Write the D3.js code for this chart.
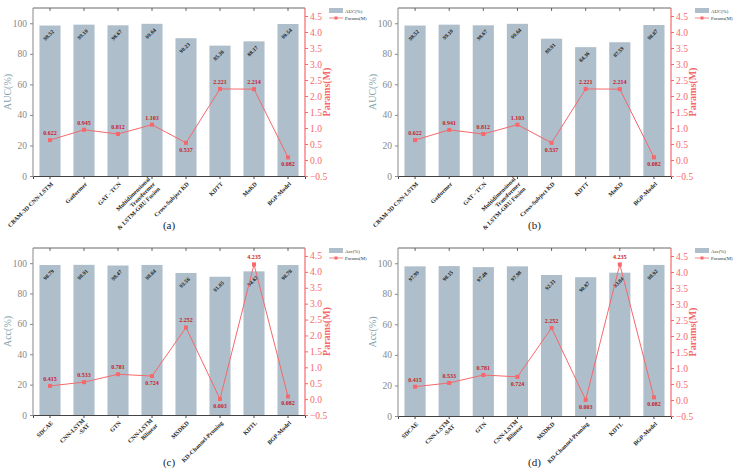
<!DOCTYPE html>
<html><head><meta charset="utf-8">
<script src="https://cdn.jsdelivr.net/npm/d3@7"></script>
<style>body{margin:0;background:#fff}svg{display:block}</style>
</head><body>
<svg id="c" width="734" height="472"></svg>
<script>
const catsAB = ["CBAM-3D CNN-LSTM","Gatformer","GAT - TCN","Multidimensional|Transformer|& LSTM-GRU Fusion","Cross-Subject KD","KDTT","MoKD","BGP-Model"];
const catsCD = ["SDCAE","CNN-LSTM|-SAT","GTN","CNN-LSTM|Bilinear","MSDKD","KD-Channel-Pruning","KDTL","BGP-Model"];
const barsA = [98.52, 99.10, 98.67, 99.64, 90.23, 85.36, 88.17, 99.54];
const barsB = [98.52, 99.10, 98.67, 99.64, 89.91, 84.36, 87.59, 98.87];
const barsC = [98.79, 98.91, 98.47, 98.84, 93.56, 91.05, 94.62, 98.78];
const barsD = [97.99, 98.15, 97.48, 97.98, 92.31, 90.87, 93.84, 98.92];
const paramsAB = [0.622, 0.945, 0.812, 1.103, 0.537, 2.221, 2.214, 0.082];
const paramsB = [0.622, 0.941, 0.812, 1.103, 0.537, 2.221, 2.214, 0.082];
const paramsCD = [0.415, 0.533, 0.781, 0.724, 2.252, 0.003, 4.235, 0.082];
const sideAB = [1,1,1,1,-1,1,1,-1];
const sideCD = [1,1,1,-1,1,-1,1,-1];
const leftTicks = [0,20,40,60,80,100];
const rightTicks = [-0.5,0,0.5,1,1.5,2,2.5,3,3.5,4,4.5];

const svg = d3.select("#c");
const serif = "'Liberation Serif','Times New Roman',serif";
const barColor = "#aebecb";
const red = "#f5686b";
const darkRed = "#c8202a";
const gray = "#888";

function panel(o){
  const g = svg.append("g");
  const x = d3.scaleBand().domain(o.cats).range([o.l,o.r]).paddingInner(0.38).paddingOuter(0.19);
  const y = d3.scaleLinear().domain([0,110]).range([o.b,o.t]);
  const y2 = d3.scaleLinear().domain([-0.5,4.75]).range([o.b,o.t]);
  g.selectAll("rect.bar").data(o.bars).join("rect")
    .attr("x",(d,i)=>x(o.cats[i])).attr("width",x.bandwidth())
    .attr("y",d=>y(d)).attr("height",d=>y(0)-y(d)).attr("fill",barColor);
  g.selectAll("text.bl").data(o.bars).join("text")
    .attr("transform",(d,i)=>`translate(${x(o.cats[i])+x.bandwidth()/2},${y(d)+11}) rotate(-45)`)
    .attr("text-anchor","middle").attr("font-family",serif).attr("font-size",5.5)
    .attr("font-weight","bold").attr("fill","#222").text(d=>d.toFixed(2));
  g.append("line").attr("x1",o.l).attr("x2",o.r).attr("y1",o.t).attr("y2",o.t).attr("stroke","#444").attr("stroke-width",0.8);
  o.cats.forEach(c=>{
    const cx = x(c)+x.bandwidth()/2;
    g.append("line").attr("x1",cx).attr("x2",cx).attr("y1",o.t).attr("y2",o.t+3).attr("stroke","#444").attr("stroke-width",0.8);
  });
  const xa = g.append("g").attr("transform",`translate(0,${o.b})`)
    .call(d3.axisBottom(x).tickSize(3).tickFormat(""));
  xa.select(".domain").attr("stroke","#444");
  xa.selectAll(".tick line").attr("stroke","#444");
  o.cats.forEach(c=>{
    const cx = x(c)+x.bandwidth()/2;
    const lines = c.split("|");
    const t = g.append("text").attr("transform",`translate(${cx+2},${o.b+7}) rotate(-45)`)
      .attr("text-anchor","end").attr("font-family",serif).attr("font-size",6)
      .attr("font-weight","bold").attr("fill","#222");
    lines.forEach((ln,k)=>{
      t.append("tspan").attr("x",0).attr("dy",k===0? (-(lines.length-1)*7/2)+2 : 7).text(ln);
    });
  });
  const ya = g.append("g").attr("transform",`translate(${o.l},0)`)
    .call(d3.axisLeft(y).tickValues(leftTicks).tickSize(3).tickPadding(3));
  ya.select(".domain").attr("d",`M0,${o.b}V${o.t}`).attr("stroke",gray);
  ya.selectAll(".tick line").attr("stroke",gray);
  ya.selectAll("text").attr("font-family",serif).attr("font-size",9.5).attr("fill",gray);
  g.append("text").attr("transform",`translate(${o.l-22},${(o.t+o.b)/2}) rotate(-90)`)
    .attr("text-anchor","middle").attr("font-family",serif).attr("font-size",10)
    .attr("fill","#7fa3ad").text(o.ylab);
  const ra = g.append("g").attr("transform",`translate(${o.r},0)`)
    .call(d3.axisRight(y2).tickValues(rightTicks).tickSize(3).tickPadding(2).tickFormat(d3.format(".1f")));
  ra.select(".domain").attr("d",`M0,${o.b}V${o.t}`).attr("stroke",red).attr("stroke-width",1.2);
  ra.selectAll(".tick line").attr("stroke",red);
  ra.selectAll("text").attr("font-family",serif).attr("font-size",9.5).attr("fill",red);
  g.append("text").attr("transform",`translate(${o.r+25},${(o.t+o.b)/2}) rotate(-90)`)
    .attr("text-anchor","middle").attr("font-family",serif).attr("font-size",10).attr("font-weight","bold")
    .attr("fill",red).text("Params(M)");
  const line = d3.line().x((d,i)=>x(o.cats[i])+x.bandwidth()/2).y(d=>y2(d));
  g.append("path").datum(o.params).attr("d",line).attr("fill","none").attr("stroke",red).attr("stroke-width",1);
  g.selectAll("rect.pt").data(o.params).join("rect")
    .attr("x",(d,i)=>x(o.cats[i])+x.bandwidth()/2-2).attr("y",d=>y2(d)-2)
    .attr("width",4).attr("height",4).attr("fill",red);
  g.selectAll("text.pl").data(o.params).join("text")
    .attr("x",(d,i)=>x(o.cats[i])+x.bandwidth()/2)
    .attr("y",(d,i)=>o.side[i]>0? y2(d)-5 : y2(d)+9)
    .attr("text-anchor","middle").attr("font-family",serif).attr("font-size",6)
    .attr("font-weight","bold").attr("fill",darkRed).text(d=>d.toFixed(3));
  const lx = o.r+24;
  g.append("rect").attr("x",lx).attr("y",o.t).attr("width",14).attr("height",5).attr("fill",barColor);
  g.append("text").attr("x",lx+16).attr("y",o.t+4.5).attr("font-family",serif).attr("font-size",4.8).attr("fill","#333").text(o.leg);
  g.append("line").attr("x1",lx).attr("x2",lx+14).attr("y1",o.t+10).attr("y2",o.t+10).attr("stroke",red).attr("stroke-width",0.8);
  g.append("rect").attr("x",lx+5.5).attr("y",o.t+8.5).attr("width",3).attr("height",3).attr("fill",red);
  g.append("text").attr("x",lx+16).attr("y",o.t+11.7).attr("font-family",serif).attr("font-size",4.8).attr("fill","#333").text("Params(M)");
  g.append("text").attr("x",(o.l+o.r)/2).attr("y",o.cap).attr("text-anchor","middle")
    .attr("font-family",serif).attr("font-size",11).attr("fill","#222").text(o.capt);
}

panel({cats:catsAB,bars:barsA,params:paramsAB,side:sideAB,l:33,r:305,t:8,b:176,ylab:"AUC(%)",leg:"AUC(%)",cap:229,capt:"(a)"});
panel({cats:catsAB,bars:barsB,params:paramsB,side:sideAB,l:398,r:671,t:8,b:176,ylab:"AUC(%)",leg:"AUC(%)",cap:229,capt:"(b)"});
panel({cats:catsCD,bars:barsC,params:paramsCD,side:sideCD,l:33,r:305,t:248,b:415,ylab:"Acc(%)",leg:"Acc(%)",cap:466,capt:"(c)"});
panel({cats:catsCD,bars:barsD,params:paramsCD,side:sideCD,l:398,r:671,t:248,b:416,ylab:"Acc(%)",leg:"Acc(%)",cap:466,capt:"(d)"});
</script>
</body></html>
